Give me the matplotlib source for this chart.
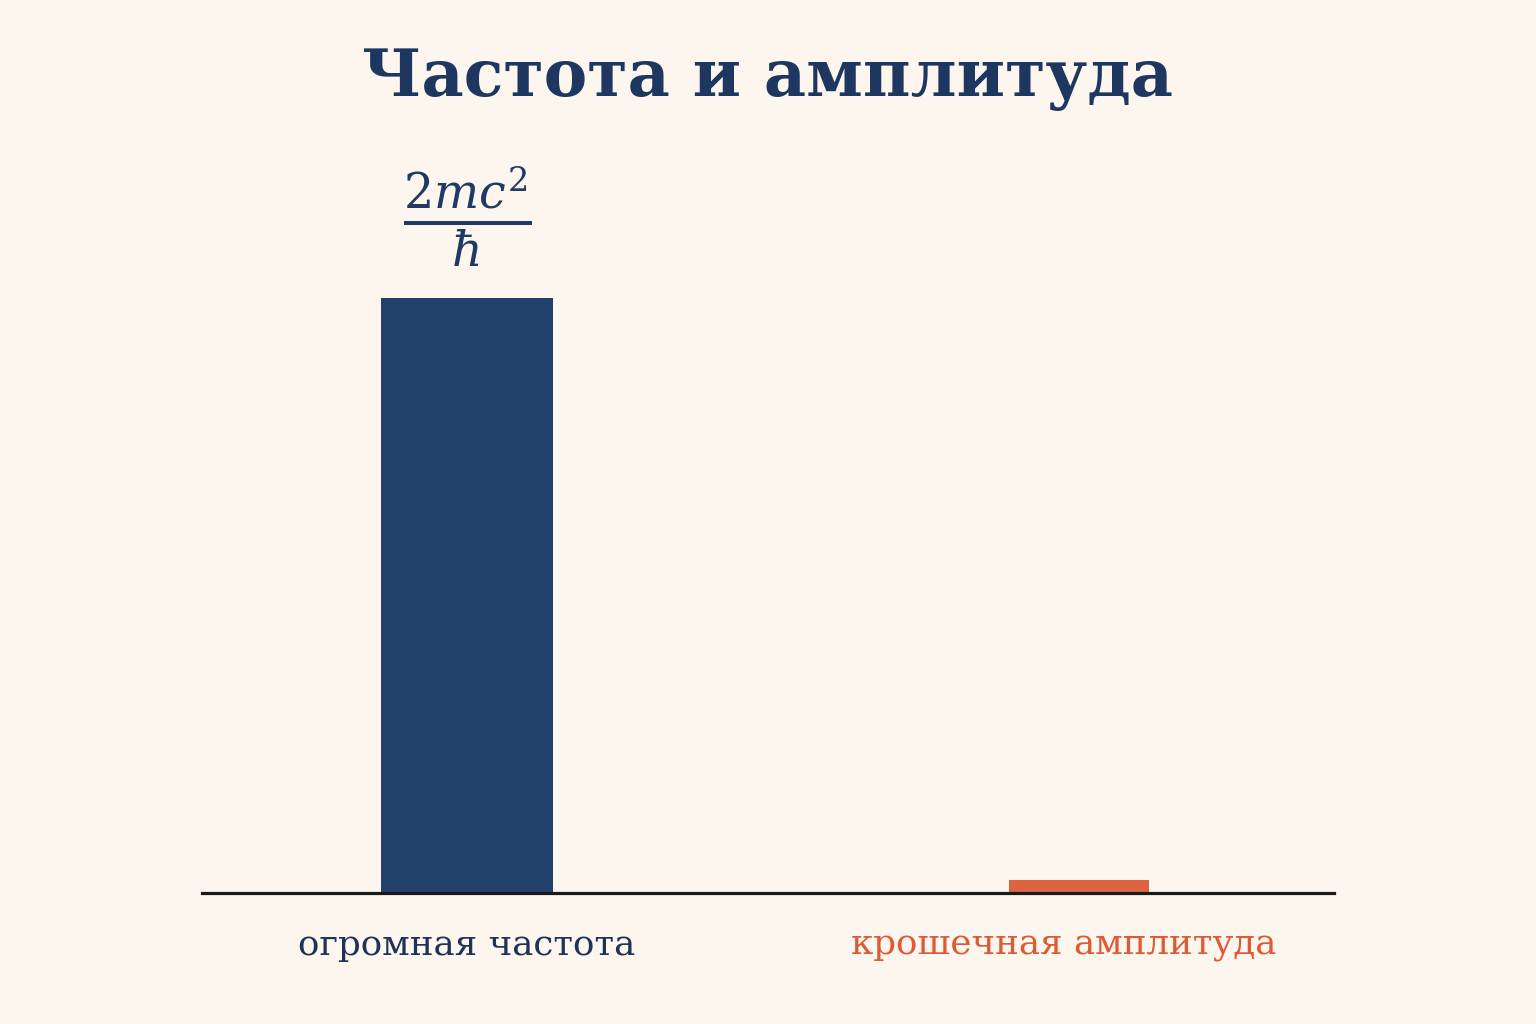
import matplotlib.pyplot as plt
from matplotlib.transforms import ScaledTranslation

# data
categories = ["огромная частота", "крошечная амплитуда"]
values = [100.0, 2.2]
value_labels = [r"$\frac{2mc^2}{\hbar}$", ""]
title = "Частота и амплитуда"

# styles
bar_colors = ["#22416a", "#dd6440"]
label_colors = ["#1f3357", "#dd5a35"]
bar_widths = [0.281, 0.229]
label_shift_px = [0, -15]
bg = "#fdf6ee"

plt.rcParams["mathtext.fontset"] = "dejavuserif"

fig = plt.figure(figsize=(15.36, 10.24), dpi=100, facecolor=bg)
ax = fig.add_axes([202 / 1536, 131 / 1024, 1132 / 1536, 743 / 1024])
ax.set_facecolor(bg)

x = list(range(len(categories)))
bars = ax.bar(x, values, width=bar_widths, color=bar_colors, zorder=2)

ax.set_xlim(-0.433, 1.4167)
ax.set_ylim(0, 124.9)

for s in ["top", "right", "left"]:
    ax.spines[s].set_visible(False)
ax.spines["bottom"].set_linewidth(2.3)
ax.spines["bottom"].set_color("#1a1a1a")
ax.spines["bottom"].set_zorder(3)
ax.set_yticks([])

ax.set_xticks(x)
ax.set_xticklabels(categories, fontsize=25.7, family="DejaVu Serif")
ax.tick_params(axis="x", length=0, pad=25)
for lbl, c, dx in zip(ax.get_xticklabels(), label_colors, label_shift_px):
    lbl.set_color(c)
    lbl.set_transform(lbl.get_transform() + ScaledTranslation(dx / 100, 0, fig.dpi_scale_trans))

for b, txt in zip(bars, value_labels):
    if txt:
        ax.annotate(txt, (b.get_x() + b.get_width() / 2, b.get_height()),
                    textcoords="offset points", xytext=(0, 20),
                    ha="center", va="bottom", fontsize=49, color="#1f3a64")

fig.text(0.5, 0.923, title, ha="center", va="center", fontsize=47,
         fontweight="bold", family="DejaVu Serif", color="#1d3760")

fig.savefig("out.png", dpi=100, facecolor=bg)
